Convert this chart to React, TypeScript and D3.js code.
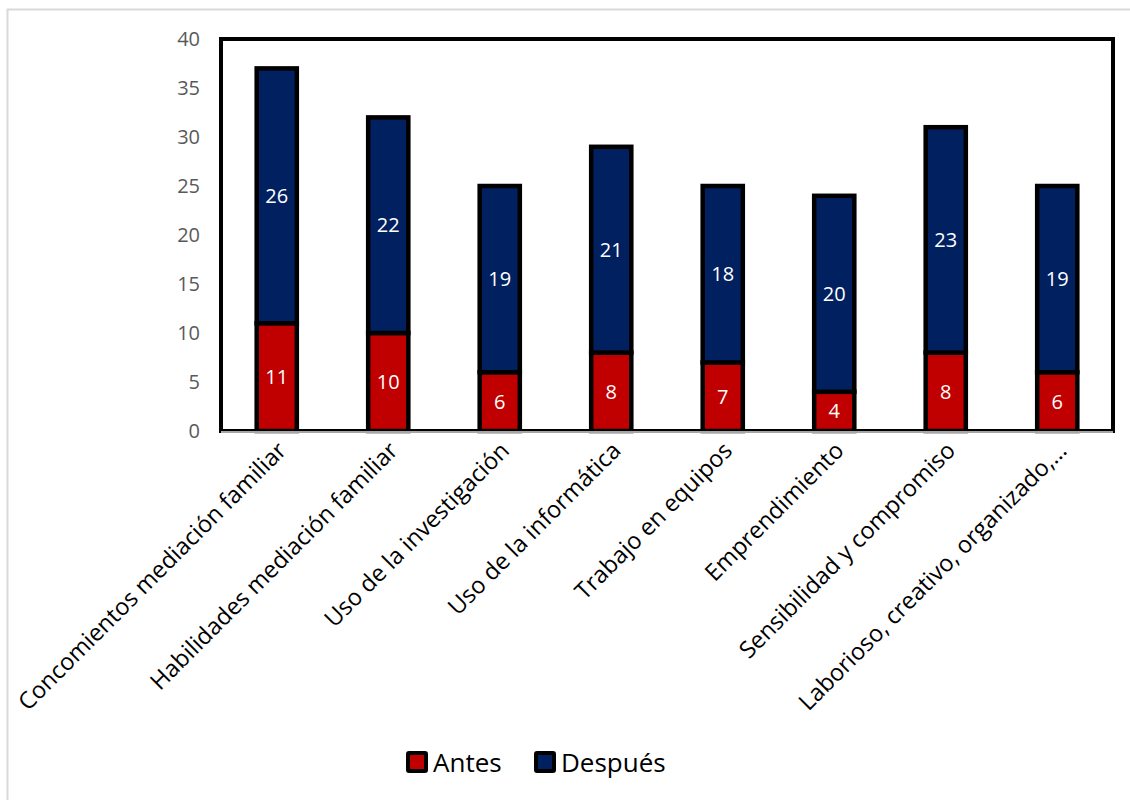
import React from "react";
import * as d3 from "d3";

const categories = [
  "Concomientos mediación familiar",
  "Habilidades mediación familiar",
  "Uso de la investigación",
  "Uso de la informática",
  "Trabajo en equipos",
  "Emprendimiento",
  "Sensibilidad y compromiso",
  "Laborioso, creativo, organizado,…",
];
const antes = [11, 10, 6, 8, 7, 4, 8, 6];
const despues = [26, 22, 19, 21, 18, 20, 23, 19];
const yTicks = [0, 5, 10, 15, 20, 25, 30, 35, 40];
const seriesNames = ["Antes", "Después"];
const colors = ["#C00000", "#002060"];

export default function App() {
  const W = 1130, H = 800;
  const left = 221, right = 1113, top = 39, bottom = 431;
  const x = d3.scaleBand<string>().domain(categories).range([left, right]).paddingInner(0.64).paddingOuter(0.32);
  const y = d3.scaleLinear().domain([0, 40]).range([bottom, top]);
  const font = "'Open Sans', sans-serif";
  const bw = x.bandwidth();
  return (
    <svg width={W} height={H} style={{ position: "absolute", left: 0, top: 0 }}>
      <rect x={7.5} y={9.5} width={W} height={H} fill="#fff" stroke="#d9d9d9" strokeWidth={2} />
      <rect x={left} y={top} width={right - left} height={bottom - top} fill="none" stroke="#000" strokeWidth={4} />
      {yTicks.map((t) => (
        <text key={t} x={200} y={y(t)} dy="0.35em" textAnchor="end" fontSize={20} fill="#595959" fontFamily={font}>
          {t}
        </text>
      ))}
      {categories.map((c, i) => {
        const x0 = x(c)!;
        const a = antes[i], d = despues[i];
        return (
          <g key={c}>
            <rect x={x0} y={y(a)} width={bw} height={y(0) - y(a)} fill={colors[0]} stroke="#000" strokeWidth={4.5} />
            <rect x={x0} y={y(a + d)} width={bw} height={y(a) - y(a + d)} fill={colors[1]} stroke="#000" strokeWidth={4.5} />
            <text x={x0 + bw / 2} y={y(a / 2)} dy="0.35em" textAnchor="middle" fill="#fff" fontSize={20} fontFamily={font}>
              {a}
            </text>
            <text x={x0 + bw / 2} y={y(a + d / 2)} dy="0.35em" textAnchor="middle" fill="#fff" fontSize={20} fontFamily={font}>
              {d}
            </text>
            <text
              transform={`translate(${x0 + bw / 2 + 11},${452}) rotate(-45)`}
              textAnchor="end"
              fontSize={23.5}
              fill="#000"
              fontFamily={font}
            >
              {c}
            </text>
          </g>
        );
      })}
      <line x1={left} x2={right} y1={bottom + 1} y2={bottom + 1} stroke="#a6a6a6" strokeWidth={2} />
      {seriesNames.map((s, i) => {
        const lx = [408, 536][i];
        return (
          <g key={s}>
            <rect x={lx} y={753} width={18} height={18} fill={colors[i]} stroke="#000" strokeWidth={4} rx={1} />
            <text x={lx + 25} y={763} dy="0.35em" fontSize={26} fill="#000" fontFamily={font}>
              {s}
            </text>
          </g>
        );
      })}
    </svg>
  );
}
